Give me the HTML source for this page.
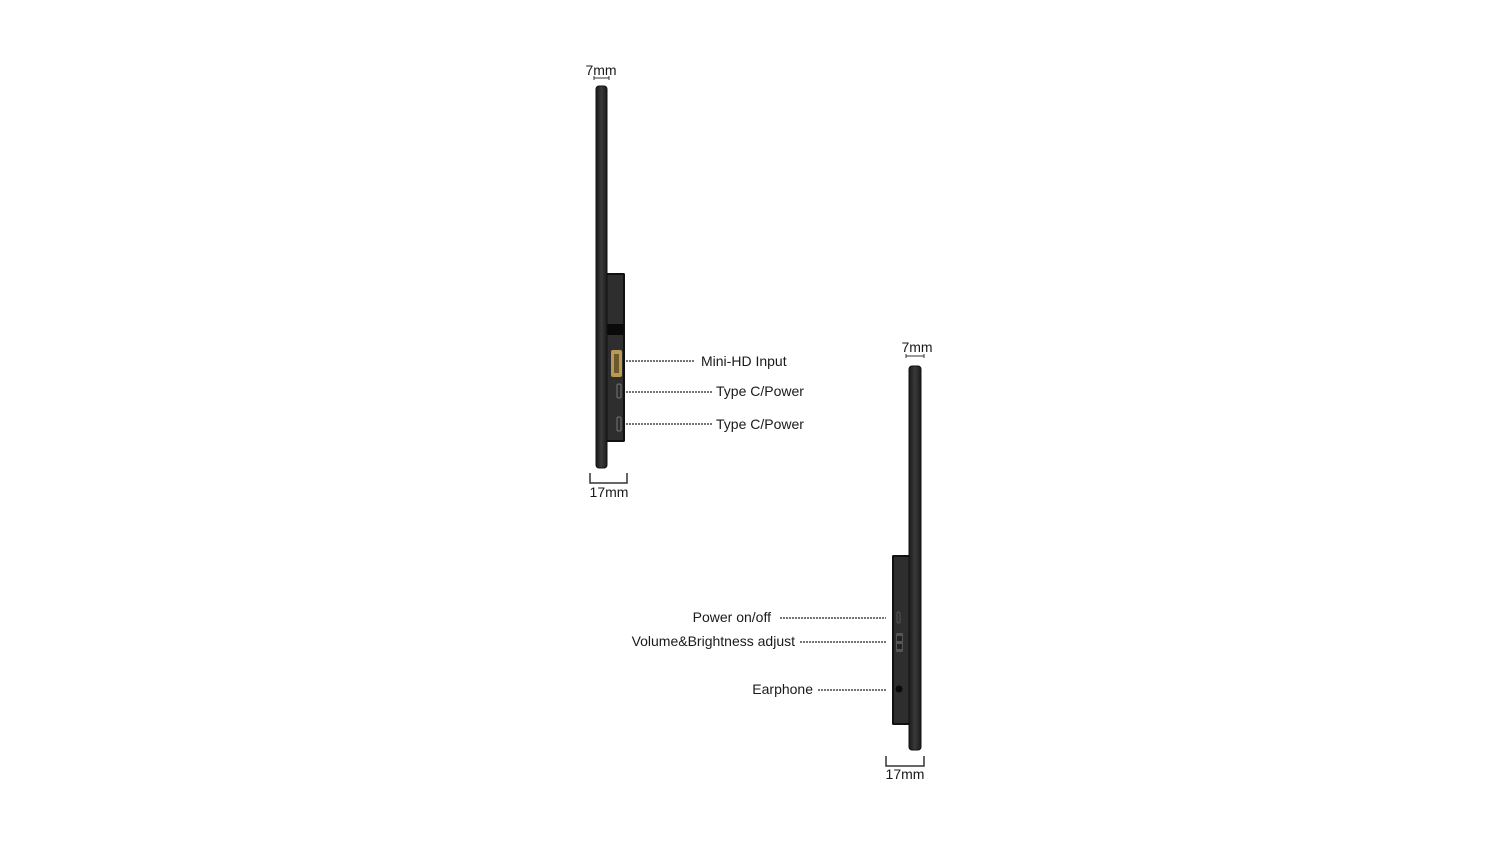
<!DOCTYPE html>
<html><head><meta charset="utf-8"><style>
html,body{margin:0;padding:0;background:#fff}
svg{display:block}
text{font-family:"Liberation Sans",sans-serif;font-size:14px;fill:#1a1a1a}
</style></head><body>
<svg width="1500" height="844" viewBox="0 0 1500 844" xmlns="http://www.w3.org/2000/svg">
<defs>
<linearGradient id="pn" x1="0" x2="1"><stop offset="0" stop-color="#1a1a1a"/><stop offset="0.5" stop-color="#3a3a3a"/><stop offset="1" stop-color="#1a1a1a"/></linearGradient>
</defs>
<!-- Left device -->
<text x="601" y="75" text-anchor="middle">7mm</text>
<path d="M594 76 V80 M594 78 H609 M609 76 V80" stroke="#333" stroke-width="1" fill="none"/>
<rect x="605" y="273" width="20" height="169" rx="1.5" fill="#111"/>
<rect x="607" y="275" width="16" height="165" fill="#2e2e2e"/>
<rect x="607" y="324" width="17" height="11" fill="#0a0a0a"/>
<rect x="596" y="86" width="11" height="382" rx="3" fill="url(#pn)" stroke="#111" stroke-width="1"/>
<rect x="611" y="350" width="11" height="27" rx="2" fill="#b89a55"/>
<rect x="614" y="354" width="5" height="19" fill="#6d5a2c"/>
<rect x="617" y="384" width="4" height="14" rx="1.5" fill="none" stroke="#777" stroke-width="1"/>
<rect x="617" y="417" width="4" height="14" rx="1.5" fill="none" stroke="#777" stroke-width="1"/>
<g stroke="#222" stroke-width="1.2" stroke-dasharray="2,1">
<line x1="626" y1="361" x2="695" y2="361"/>
<line x1="626" y1="392" x2="712" y2="392"/>
<line x1="626" y1="424" x2="712" y2="424"/>
</g>
<text x="701" y="366">Mini-HD Input</text>
<text x="716" y="396">Type C/Power</text>
<text x="716" y="429">Type C/Power</text>
<path d="M590 473 V483 H627 V473" stroke="#333" stroke-width="1.5" fill="none"/>
<text x="609" y="497" text-anchor="middle">17mm</text>
<!-- Right device -->
<text x="917" y="352" text-anchor="middle">7mm</text>
<path d="M906 354 V358 M906 356 H924 M924 354 V358" stroke="#333" stroke-width="1" fill="none"/>
<rect x="892" y="555" width="19" height="170" rx="1.5" fill="#111"/>
<rect x="894" y="557" width="15" height="166" fill="#2e2e2e"/>
<rect x="909" y="366" width="12" height="384" rx="3" fill="url(#pn)" stroke="#111" stroke-width="1"/>
<rect x="897" y="612" width="3" height="11" rx="1.5" fill="none" stroke="#555" stroke-width="1"/>
<rect x="896" y="633" width="7" height="19" rx="1" fill="#555"/>
<rect x="897" y="636" width="5" height="5" fill="#222"/>
<rect x="897" y="644" width="5" height="5" fill="#222"/>
<circle cx="899" cy="689" r="3.5" fill="#0a0a0a"/>
<g stroke="#222" stroke-width="1.2" stroke-dasharray="2,1">
<line x1="780" y1="618" x2="886" y2="618"/>
<line x1="800" y1="642" x2="886" y2="642"/>
<line x1="818" y1="690" x2="886" y2="690"/>
</g>
<text x="771" y="622" text-anchor="end">Power on/off</text>
<text x="795" y="646" text-anchor="end">Volume&amp;Brightness adjust</text>
<text x="813" y="694" text-anchor="end">Earphone</text>
<path d="M886 756 V766 H924 V756" stroke="#333" stroke-width="1.5" fill="none"/>
<text x="905" y="779" text-anchor="middle">17mm</text>
</svg>
</body></html>
